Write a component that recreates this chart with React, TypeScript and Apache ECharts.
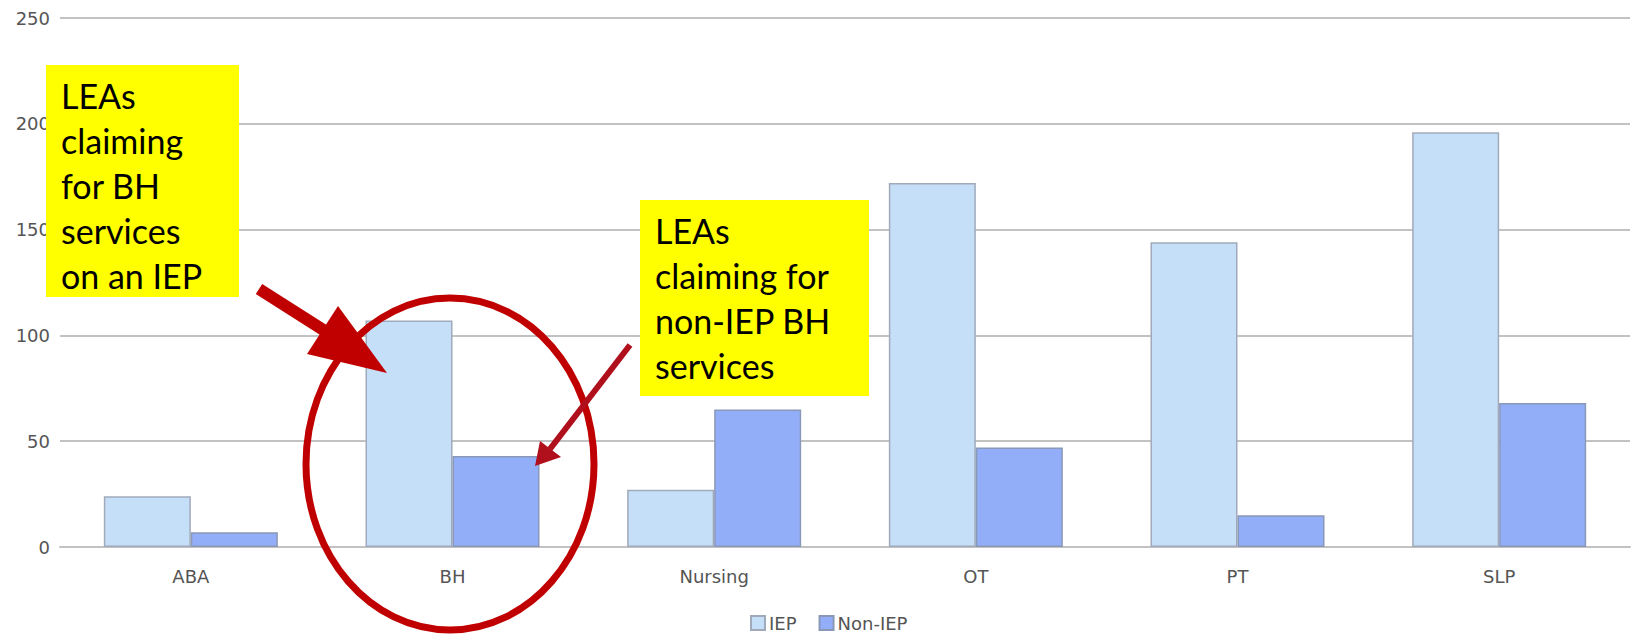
import React, { useEffect, useRef } from "react";
import * as echarts from "echarts";

const categories = ["ABA", "BH", "Nursing", "OT", "PT", "SLP"];
const iepValues = [24, 107, 27, 172, 144, 196];
const nonIepValues = [7, 43, 65, 47, 15, 68];
const seriesNames = ["IEP", "Non-IEP"];
const yTicks = { min: 0, max: 250, interval: 50 };

const note1 = "LEAs\nclaiming\nfor BH\nservices\non an IEP";
const note2 = "LEAs\nclaiming for\nnon-IEP BH\nservices";

export default function App() {
  const ref = useRef<HTMLDivElement>(null);
  useEffect(() => {
    if (!ref.current) return;
    const chart = echarts.init(ref.current, null, { renderer: "svg" });
    const labelColor = "#555555";
    const gridColor = "#c2c2c2";
    chart.setOption({
      animation: false,
      backgroundColor: "#ffffff",
      grid: { left: 60, right: 4, top: 18, bottom: 87, containLabel: false },
      legend: {
        data: seriesNames,
        left: 750,
        top: 614,
        padding: 0,
        itemWidth: 14,
        itemHeight: 14,
        itemGap: 22,
        icon: "rect",
        textStyle: { fontFamily: "DejaVu Sans", fontSize: 18, color: labelColor, padding: [0, 0, 0, -1] },
      },
      xAxis: {
        type: "category",
        data: categories,
        axisTick: { show: false },
        axisLine: { lineStyle: { color: gridColor, width: 2 } },
        axisLabel: { fontFamily: "DejaVu Sans", fontSize: 18, color: labelColor, margin: 20 },
      },
      yAxis: {
        type: "value",
        min: yTicks.min,
        max: yTicks.max,
        interval: yTicks.interval,
        axisLine: { show: false },
        axisTick: { show: false },
        splitLine: { lineStyle: { color: gridColor, width: 2 } },
        axisLabel: { fontFamily: "DejaVu Sans", fontSize: 18, color: labelColor, margin: 10 },
      },
      series: [
        {
          name: seriesNames[0],
          type: "bar",
          data: iepValues,
          barGap: "0%",
          barCategoryGap: "33.5%",
          itemStyle: { color: "#C6DFF8", borderColor: "#A0AABA", borderWidth: 1.5 },
        },
        {
          name: seriesNames[1],
          type: "bar",
          data: nonIepValues,
          barGap: "0%",
          barCategoryGap: "33.5%",
          itemStyle: { color: "#92AEF9", borderColor: "#8A98B8", borderWidth: 1.5 },
        },
      ],
      graphic: [
        { type: "rect", z: 100, shape: { x: 46, y: 65, width: 193, height: 232 }, style: { fill: "#FFFF00" } },
        {
          type: "text",
          z: 101,
          style: { text: note1, x: 61, y: 73, font: "34px Lato", fill: "#000000", lineHeight: 45, verticalAlign: "top" },
        },
        { type: "rect", z: 100, shape: { x: 640, y: 200, width: 229, height: 196 }, style: { fill: "#FFFF00" } },
        {
          type: "text",
          z: 101,
          style: { text: note2, x: 655, y: 208, font: "34px Lato", fill: "#000000", lineHeight: 45, verticalAlign: "top" },
        },
        {
          type: "ellipse",
          z: 102,
          shape: { cx: 450, cy: 464, rx: 144, ry: 166 },
          style: { fill: "transparent", stroke: "#C00000", lineWidth: 7 },
        },
        {
          type: "line",
          z: 103,
          shape: { x1: 259, y1: 289, x2: 325, y2: 331 },
          style: { stroke: "#C00000", lineWidth: 12 },
        },
        {
          type: "polygon",
          z: 103,
          shape: { points: [[338, 306], [307, 354], [387, 373]] },
          style: { fill: "#C00000" },
        },
        {
          type: "line",
          z: 103,
          shape: { x1: 630, y1: 345, x2: 550, y2: 449 },
          style: { stroke: "#B0101C", lineWidth: 6 },
        },
        {
          type: "polygon",
          z: 103,
          shape: { points: [[540, 441], [561, 457], [535, 466]] },
          style: { fill: "#B0101C" },
        },
      ],
    });
    return () => chart.dispose();
  }, []);
  return (
    <div
      ref={ref}
      style={{ position: "absolute", left: 0, top: 0, width: 1634, height: 634 }}
    />
  );
}
